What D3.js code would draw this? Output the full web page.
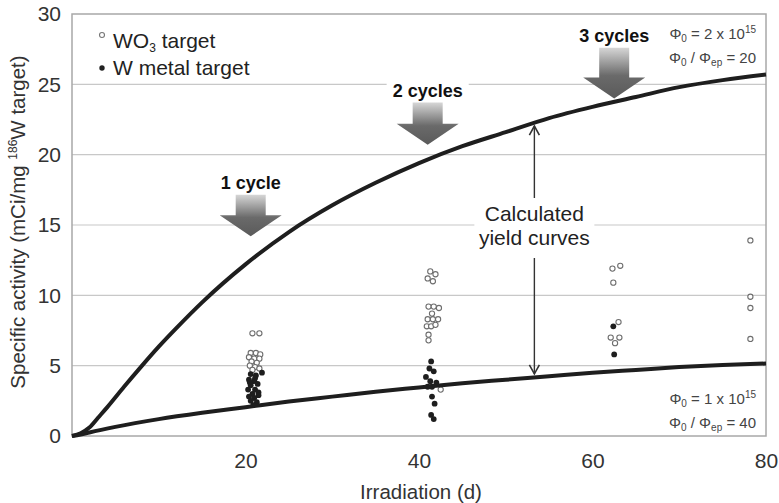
<!DOCTYPE html>
<html>
<head>
<meta charset="utf-8">
<script src="https://cdn.jsdelivr.net/npm/d3@7"></script>
<style>
  html, body { margin: 0; padding: 0; background: #fff; }
  svg { display: block; font-family: "Liberation Sans", Arial, sans-serif; }
</style>
</head>
<body>
<svg id="chart" width="779" height="503"></svg>
<script>
// Calculated yield curves: [irradiation days, specific activity]
const upperCurve = [[0,0],[1,0.2],[2,0.6],[3,1.3],[4,2.0],[6,3.5],[8,4.95],[10,6.35],[12,7.65],[15,9.5],[20,12.2],[25,14.5],[30,16.4],[35,18.0],[40,19.4],[45,20.6],[50,21.6],[55,22.6],[60,23.4],[65,24.1],[70,24.8],[75,25.3],[80,25.7]];
const lowerCurve = [[0,0],[1,0.1],[2,0.25],[5,0.65],[10,1.2],[15,1.65],[20,2.05],[25,2.45],[30,2.8],[35,3.15],[40,3.45],[45,3.75],[50,4.0],[55,4.25],[60,4.5],[65,4.7],[70,4.9],[75,5.05],[80,5.15]];

// Measured WO3 targets (open circles)
const wo3Points = [
  [20.8,7.3],[21.6,7.3],
  [20.6,5.9],[21.2,5.9],[21.7,5.8],[20.4,5.6],[21.0,5.5],[21.6,5.5],[20.7,5.3],[21.3,5.2],[20.5,5.0],[21.1,4.9],[21.6,4.8],[20.8,4.7],
  [41.3,11.7],[41.9,11.5],[41.0,11.2],[41.6,11.0],
  [41.1,9.2],[41.7,9.2],[42.3,9.1],[41.5,8.7],[41.0,8.3],[41.6,8.3],[42.2,8.3],[40.9,7.8],[41.4,7.8],[41.9,7.9],[41.1,7.2],[41.1,6.8],
  [42.5,3.3],
  [62.3,11.9],[63.2,12.1],[62.4,10.9],[63.0,8.1],[62.1,7.0],[62.6,6.6],[63.1,7.0],
  [78.2,13.9],[78.2,9.9],[78.2,9.1],[78.2,6.9]
];
// Measured W metal targets (filled circles)
const wMetalPoints = [
  [21.9,4.5],[20.6,4.4],[21.2,4.3],[21.1,4.1],[20.4,4.0],[21.0,3.9],[20.5,3.8],[21.4,3.7],[20.6,3.6],[20.3,3.3],[21.1,3.3],[21.5,3.1],[20.8,3.0],[21.5,2.9],[20.4,2.8],[21.0,2.7],[20.6,2.5],[21.3,2.4],[20.9,2.2],
  [41.4,5.3],[41.2,4.8],[41.7,4.6],[40.8,4.2],[41.3,3.9],[42.0,3.8],[41.0,3.5],[41.5,3.5],[41.5,2.8],[41.8,2.3],[41.4,1.5],[41.7,1.2],
  [62.4,7.8],[62.5,5.8]
];

const xTicks = [20, 40, 60, 80];
const yTicks = [0, 5, 10, 15, 20, 25, 30];
const gridValues = [5, 10, 15, 20, 25];

// Cycle markers: label, day position, activity at the arrow tail and tip
const cycleLabels = ["1 cycle", "2 cycles", "3 cycles"];
const cycleDays = [20.6, 41.0, 62.5];
const cycleTails = [17.15, 23.7, 27.6];
const cycleTips = [14.2, 20.7, 24.0];

const svg = d3.select("#chart");
const x = d3.scaleLinear().domain([0, 80]).range([72, 766]);
const y = d3.scaleLinear().domain([0, 30]).range([436, 14]);
const FONT = "Liberation Sans, Arial, sans-serif";

// Gradient for the block arrows
const defs = svg.append("defs");
const grad = defs.append("linearGradient").attr("id", "arrowGrad").attr("x1", 0).attr("y1", 0).attr("x2", 0).attr("y2", 1);
grad.append("stop").attr("offset", "0%").attr("stop-color", "#d6d6d6");
grad.append("stop").attr("offset", "55%").attr("stop-color", "#6a6a6a");
grad.append("stop").attr("offset", "100%").attr("stop-color", "#5a5a5a");

// Grid lines
svg.append("g").selectAll("line").data(gridValues).join("line")
  .attr("x1", x(0)).attr("x2", x(80))
  .attr("y1", d => y(d)).attr("y2", d => y(d))
  .attr("stroke", "#c8c8c8").attr("stroke-width", 1.2);

// Frame
svg.append("rect")
  .attr("x", x(0)).attr("y", y(30))
  .attr("width", x(80) - x(0)).attr("height", y(0) - y(30))
  .attr("fill", "none").attr("stroke", "#a8a8a8").attr("stroke-width", 1.5);

// Axes (labels only)
const yAxis = d3.axisLeft(y).tickValues(yTicks).tickSize(0).tickPadding(11);
const yg = svg.append("g").attr("transform", `translate(${x(0)},0)`).call(yAxis);
yg.select(".domain").remove();
yg.selectAll("text").attr("font-size", 21).attr("fill", "#333").attr("font-family", FONT);

const xAxis = d3.axisBottom(x).tickValues(xTicks).tickSize(0).tickPadding(17);
const xg = svg.append("g").attr("transform", `translate(0,${y(0)})`).call(xAxis);
xg.select(".domain").remove();
xg.selectAll("text").attr("font-size", 21).attr("fill", "#333").attr("font-family", FONT);

// Axis titles
svg.append("text").attr("x", 421).attr("y", 499).attr("text-anchor", "middle")
  .attr("font-size", 20.5).attr("fill", "#333").text("Irradiation (d)");

const yt = svg.append("text").attr("transform", "translate(25,222) rotate(-90)")
  .attr("text-anchor", "middle").attr("font-size", 20.5).attr("fill", "#333");
yt.append("tspan").text("Specific activity (mCi/mg ");
yt.append("tspan").attr("font-size", 12).attr("baseline-shift", "65%").text("186");
yt.append("tspan").text("W target)");

// Legend
const legend = svg.append("g");
legend.append("circle").attr("cx", 102).attr("cy", 35).attr("r", 2.5)
  .attr("fill", "#fff").attr("stroke", "#777").attr("stroke-width", 1.1);
const lt1 = legend.append("text").attr("x", 113).attr("y", 48).attr("font-size", 21).attr("fill", "#222");
lt1.append("tspan").text("WO");
lt1.append("tspan").attr("font-size", 12).attr("baseline-shift", "-30%").text("3");
lt1.append("tspan").text(" target");
legend.append("circle").attr("cx", 102).attr("cy", 68).attr("r", 2.7).attr("fill", "#222");
legend.append("text").attr("x", 113).attr("y", 75).attr("font-size", 21).attr("fill", "#222").text("W metal target");

// Data points
svg.append("g").selectAll("circle").data(wo3Points).join("circle")
  .attr("cx", d => x(d[0])).attr("cy", d => y(d[1])).attr("r", 2.6)
  .attr("fill", "#fff").attr("stroke", "#6e6e6e").attr("stroke-width", 1.1);
svg.append("g").selectAll("circle").data(wMetalPoints).join("circle")
  .attr("cx", d => x(d[0])).attr("cy", d => y(d[1])).attr("r", 2.9)
  .attr("fill", "#1e1e1e");

// Yield curves
const line = d3.line().x(d => x(d[0])).y(d => y(d[1])).curve(d3.curveMonotoneX);
[upperCurve, lowerCurve].forEach(c => {
  svg.append("path").datum(c).attr("d", line)
    .attr("fill", "none").attr("stroke", "#1e1e1e").attr("stroke-width", 4)
    .attr("stroke-linejoin", "round");
});

// "Calculated yield curves" with double-headed arrow
const annX = x(53.3);
const annG = svg.append("g");
const arrowTop = y(22.25) + 3, arrowBot = y(4.2) - 3;
annG.append("line").attr("x1", annX).attr("x2", annX).attr("y1", arrowTop).attr("y2", 198)
  .attr("stroke", "#333").attr("stroke-width", 1.4);
annG.append("line").attr("x1", annX).attr("x2", annX).attr("y1", 258).attr("y2", arrowBot)
  .attr("stroke", "#333").attr("stroke-width", 1.4);
annG.append("path").attr("d", `M${annX - 5},${arrowTop + 9} L${annX},${arrowTop} L${annX + 5},${arrowTop + 9}`)
  .attr("fill", "none").attr("stroke", "#333").attr("stroke-width", 1.6);
annG.append("path").attr("d", `M${annX - 5},${arrowBot - 9} L${annX},${arrowBot} L${annX + 5},${arrowBot - 9}`)
  .attr("fill", "none").attr("stroke", "#333").attr("stroke-width", 1.6);
annG.append("rect").attr("x", annX - 60).attr("y", 202).attr("width", 120).attr("height", 50).attr("fill", "#fff");
annG.append("text").attr("x", annX).attr("y", 221).attr("text-anchor", "middle")
  .attr("font-size", 21).attr("fill", "#222").text("Calculated");
annG.append("text").attr("x", annX).attr("y", 245).attr("text-anchor", "middle")
  .attr("font-size", 21).attr("fill", "#222").text("yield curves");

// Cycle arrows
cycleLabels.forEach((lab, i) => {
  const g = svg.append("g");
  const cx = x(cycleDays[i]);
  const tip = y(cycleTips[i]);
  const shaftTop = y(cycleTails[i]);
  const headTop = tip - 21;
  const label = g.append("text").attr("x", cx).attr("y", shaftTop - 6).attr("text-anchor", "middle")
    .attr("font-size", 18).attr("font-weight", "bold").attr("fill", "#111").text(lab);
  const bb = label.node().getBBox();
  g.insert("rect", "text")
    .attr("x", bb.x - 6).attr("y", bb.y).attr("width", bb.width + 12).attr("height", bb.height)
    .attr("fill", "#fff");
  g.append("path")
    .attr("d", `M${cx - 15},${shaftTop} L${cx + 15},${shaftTop} L${cx + 15},${headTop} L${cx + 31},${headTop} L${cx},${tip} L${cx - 31},${headTop} L${cx - 15},${headTop} Z`)
    .attr("fill", "url(#arrowGrad)");
});

// Flux annotations
function fluxText(g, xr, yb, lines) {
  lines.forEach((parts, i) => {
    const t = g.append("text").attr("x", xr).attr("y", yb + i * 24).attr("text-anchor", "end")
      .attr("font-size", 15).attr("fill", "#444");
    parts.forEach(p => {
      const s = t.append("tspan").text(p[0]);
      if (p[1] === "sub") s.attr("font-size", 10).attr("baseline-shift", "-30%");
      if (p[1] === "sup") s.attr("font-size", 10).attr("baseline-shift", "60%");
    });
  });
}
const fluxHigh = [
  [["Φ"],["0","sub"],[" = 2 x 10"],["15","sup"]],
  [["Φ"],["0","sub"],[" / Φ"],["ep","sub"],[" = 20"]]
];
const fluxLow = [
  [["Φ"],["0","sub"],[" = 1 x 10"],["15","sup"]],
  [["Φ"],["0","sub"],[" / Φ"],["ep","sub"],[" = 40"]]
];
const ann = svg.append("g");
fluxText(ann, 756, 39, fluxHigh);
fluxText(ann, 756, 404, fluxLow);
</script>
</body>
</html>
